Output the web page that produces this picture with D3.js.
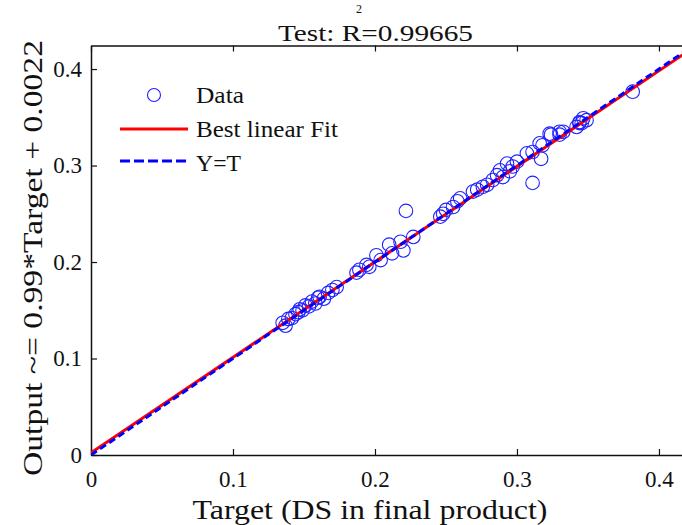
<!DOCTYPE html>
<html><head><meta charset="utf-8">
<script src="https://cdn.jsdelivr.net/npm/d3@7"></script>
<style>body{margin:0;background:#fff}svg{display:block}text{font-family:"Liberation Serif","Times New Roman",serif;fill:#111}</style>
</head><body><svg id="c" width="682" height="525"></svg>
<script>
const targets = [0.135,0.137,0.139,0.1415,0.144,0.146,0.147,0.149,0.151,0.1535,0.1556,0.158,0.160,0.161,0.164,0.167,0.170,0.173,
  0.187,0.189,0.194,0.196,0.201,0.204,0.210,0.212,0.218,0.220,0.2218,0.227,
  0.246,0.248,0.250,0.255,0.258,0.260,0.269,0.272,0.276,0.279,0.283,0.286,0.288,0.290,0.293,0.295,0.297,0.300,
  0.307,0.311,0.311,0.316,0.317,0.318,0.323,0.324,0.330,0.330,0.3326,0.342,0.344,0.344,0.3456,0.3467,0.349,0.3815];
const outputs = [0.137,0.134,0.141,0.142,0.146,0.148,0.151,0.150,0.155,0.154,0.159,0.157,0.163,0.164,0.162,0.168,0.171,0.174,
  0.189,0.192,0.197,0.195,0.207,0.202,0.218,0.209,0.221,0.212,0.253,0.226,
  0.247,0.250,0.254,0.257,0.263,0.266,0.273,0.275,0.278,0.280,0.285,0.290,0.295,0.288,0.302,0.294,0.299,0.304,
  0.3126,0.314,0.282,0.323,0.307,0.321,0.333,0.332,0.332,0.335,0.335,0.340,0.344,0.345,0.344,0.349,0.347,0.3765];
const xTicks = [0,0.1,0.2,0.3,0.4];
const yTicks = [0,0.1,0.2,0.3,0.4];
const fitSlope = 0.99, fitIntercept = 0.0022;
const axisMax = 0.4244;
const legendItems = ["Data","Best linear Fit","Y=T"];

const svg = d3.select("#c");
const x = d3.scaleLinear().domain([0, axisMax]).range([91, 693.6]);
const y = d3.scaleLinear().domain([0, axisMax]).range([455, 45.5]);

svg.append("defs").append("clipPath").attr("id","clip").append("rect")
  .attr("x",91).attr("y",45.5).attr("width",602.6).attr("height",409.5);

// axes
const gx = svg.append("g").attr("transform","translate(0,455)")
  .call(d3.axisBottom(x).tickValues(xTicks).tickFormat(d3.format("~g")).tickSizeInner(-6).tickSizeOuter(0).tickPadding(16));
const gxt = svg.append("g").attr("transform","translate(0,45.5)")
  .call(d3.axisTop(x).tickValues(xTicks).tickFormat("").tickSizeInner(-6).tickSizeOuter(0));
const gy = svg.append("g").attr("transform","translate(91,0)")
  .call(d3.axisLeft(y).tickValues(yTicks).tickFormat(d3.format("~g")).tickSizeInner(-6).tickSizeOuter(0).tickPadding(9));
[gx,gxt,gy].forEach(g=>{
  g.selectAll(".domain").attr("stroke","#111").attr("stroke-width",1.5);
  g.selectAll(".tick line").attr("stroke","#111").attr("stroke-width",1.2);
  g.selectAll("text").style("font-family","Liberation Serif, serif").style("font-size","23px").attr("fill","#111");
});

const plot = svg.append("g").attr("clip-path","url(#clip)");
const data = targets.map((t,i)=>({t, o: outputs[i]}));
plot.selectAll("circle").data(data).join("circle")
  .attr("cx",d=>x(d.t)).attr("cy",d=>y(d.o)).attr("r",6.8)
  .attr("fill","none").attr("stroke","#2222ff").attr("stroke-width",1.1);

const lineGen = d3.line().x(d=>x(d[0])).y(d=>y(d[1]));
plot.append("path").attr("d", lineGen([[0,fitIntercept],[axisMax, fitSlope*axisMax+fitIntercept]]))
  .attr("stroke","#ff0000").attr("stroke-width",3).attr("fill","none");
plot.append("path").attr("d", lineGen([[0,0],[axisMax,axisMax]]))
  .attr("stroke","#0000ff").attr("stroke-width",3).attr("stroke-dasharray","7,4").attr("fill","none");

// title
svg.append("text").attr("x",278).attr("y",41).style("font-size","23px")
  .attr("textLength",195).attr("lengthAdjust","spacingAndGlyphs").text("Test: R=0.99665");
svg.append("text").attr("x",359).attr("y",13).attr("text-anchor","middle").style("font-size","12px").text("2");

// axis labels
svg.append("text").attr("x",370).attr("y",519).attr("text-anchor","middle").style("font-size","27px")
  .attr("textLength",355).attr("lengthAdjust","spacingAndGlyphs")
  .text("Target (DS in final product)");
svg.append("text").attr("transform","translate(42,258) rotate(-90)").attr("text-anchor","middle").style("font-size","28px")
  .attr("textLength",436).attr("lengthAdjust","spacingAndGlyphs")
  .text("Output ~= 0.99*Target + 0.0022");

// legend
const lg = svg.append("g");
lg.append("circle").attr("cx",154).attr("cy",95).attr("r",6.5).attr("fill","none").attr("stroke","#2222ff").attr("stroke-width",1.1);
lg.append("line").attr("x1",120).attr("x2",188).attr("y1",129).attr("y2",129).attr("stroke","#ff0000").attr("stroke-width",3);
lg.append("line").attr("x1",120).attr("x2",188).attr("y1",161).attr("y2",161).attr("stroke","#0000ff").attr("stroke-width",3).attr("stroke-dasharray","10,4");
const legendLens = [48,142,45];
lg.selectAll("text.l").data(legendItems).join("text").attr("class","l")
  .attr("x",196).attr("y",(d,i)=>103+i*34).style("font-size","23px")
  .attr("textLength",(d,i)=>legendLens[i]).attr("lengthAdjust","spacingAndGlyphs").text(d=>d);
</script></body></html>
